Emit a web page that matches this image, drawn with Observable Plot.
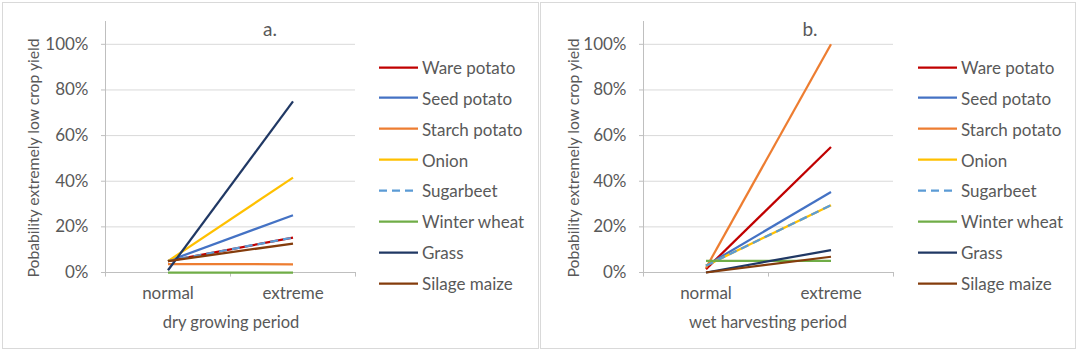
<!DOCTYPE html>
<html>
<head>
<meta charset="utf-8">
<script src="https://cdn.jsdelivr.net/npm/d3@7"></script>
<script src="https://cdn.jsdelivr.net/npm/@observablehq/plot@0.6"></script>
<style>
  html, body { margin: 0; padding: 0; background: #fff; }
  #root { position: relative; width: 1080px; height: 353px; overflow: hidden; font-family: Lato, "Open Sans", sans-serif; color: #595959; }
  .panel { position: absolute; top: 2px; height: 347px; box-sizing: border-box; border: 1px solid #d9d9d9; }
  .abs { position: absolute; white-space: nowrap; }
  .title { font-size: 19px; transform: translate(-50%, -50%); }
  .xlab { font-size: 16.5px; transform: translate(-50%, -50%); }
  .ylab { font-size: 15.7px; transform: translate(-50%, -50%) rotate(-90deg); }
  .legend-row { position: absolute; display: flex; align-items: center; font-size: 17px; transform: translateY(-50%); }
  .legend-row svg { display: block; margin-right: 4px; }
  .plot { position: absolute; top: 0; }
</style>
</head>
<body>
<div id="root"></div>
<script>
// ---- data ----
const categories = ["normal", "extreme"];
const crops = ["Ware potato", "Seed potato", "Starch potato", "Onion", "Sugarbeet", "Winter wheat", "Grass", "Silage maize"];
const cropColors = ["#C00000", "#4472C4", "#ED7D31", "#FFC000", "#5B9BD5", "#70AD47", "#203864", "#843C0C"];
const cropDashed = [false, false, false, false, true, false, false, false];
// panel a: dry growing period
const dryNormal  = [0.050, 0.050, 0.037, 0.050, 0.050, 0.000, 0.010, 0.050];
const dryExtreme = [0.153, 0.251, 0.036, 0.416, 0.153, 0.000, 0.750, 0.127];
// panel b: wet harvesting period
const wetNormal  = [0.015, 0.030, 0.020, 0.030, 0.030, 0.051, 0.000, 0.000];
const wetExtreme = [0.550, 0.353, 1.000, 0.295, 0.295, 0.051, 0.098, 0.069];
const yTicks = [0, 0.2, 0.4, 0.6, 0.8, 1.0];
const yLabel = "Pobability extremely low crop yield";

const root = document.getElementById("root");

function rowsFor(normal, extreme) {
  const rows = [];
  crops.forEach((c, i) => {
    [normal[i], extreme[i]].forEach((v, j) => rows.push({crop: c, idx: i, pos: j + 0.5, value: v}));
  });
  return rows;
}

function makePlot(normal, extreme) {
  const rows = rowsFor(normal, extreme);
  const lineMarks = crops.map((c, i) =>
    Plot.line(rows.filter(r => r.crop === c), {
      x: "pos", y: "value", stroke: "crop",
      strokeWidth: 2.25,
      strokeDasharray: cropDashed[i] ? "8,5" : null,
      strokeLinecap: "butt"
    })
  );
  return Plot.plot({
    width: 370,
    height: 353,
    marginLeft: 105,
    marginRight: 15,
    marginTop: 21,
    marginBottom: 81,
    style: {fontFamily: "Lato, 'Open Sans', sans-serif", fontSize: "17px", color: "#595959", background: "transparent", overflow: "visible"},
    x: {domain: [0, categories.length], ticks: categories.map((c, i) => i + 0.5), tickFormat: v => categories[Math.floor(v)], tickSize: 0, tickPadding: 14, label: null},
    y: {domain: [0, 1.1], ticks: yTicks, tickFormat: d3.format(".0%"), tickSize: 0, tickPadding: 17, label: null},
    color: {domain: crops, range: cropColors},
    marks: [
      Plot.ruleY(yTicks.slice(1), {stroke: "#d9d9d9", strokeWidth: 1}),
      Plot.ruleY(yTicks, {x1: -0.032, x2: 0, stroke: "#bfbfbf"}),
      Plot.ruleY([0], {stroke: "#bfbfbf", strokeWidth: 1}),
      Plot.ruleX(d3.range(categories.length + 1), {y1: -0.02, y2: 0, stroke: "#bfbfbf"}),
      Plot.ruleX([0], {y1: 0, y2: 1.1, stroke: "#bfbfbf"}),
      ...lineMarks
    ]
  });
}

function addPanel(cfg) {
  const panel = document.createElement("div");
  panel.className = "panel";
  panel.style.left = cfg.panelLeft + "px";
  panel.style.width = cfg.panelWidth + "px";
  root.appendChild(panel);

  const plot = makePlot(cfg.normal, cfg.extreme);
  plot.classList.add("plot");
  plot.style.left = cfg.plotLeft + "px";
  root.appendChild(plot);

  const t = document.createElement("div");
  t.className = "abs title"; t.textContent = cfg.title;
  t.style.left = cfg.titleX + "px"; t.style.top = "28px";
  root.appendChild(t);

  const xl = document.createElement("div");
  xl.className = "abs xlab"; xl.textContent = cfg.xLabel;
  xl.style.left = cfg.xLabelX + "px"; xl.style.top = "322px";
  root.appendChild(xl);

  const yl = document.createElement("div");
  yl.className = "abs ylab"; yl.textContent = yLabel;
  yl.style.left = cfg.yLabelX + "px"; yl.style.top = "158px";
  root.appendChild(yl);

  crops.forEach((c, i) => {
    const row = document.createElement("div");
    row.className = "legend-row";
    row.style.left = cfg.legendX + "px";
    row.style.top = (67 + i * 30.87) + "px";
    const ns = "http://www.w3.org/2000/svg";
    const svg = document.createElementNS(ns, "svg");
    svg.setAttribute("width", 39); svg.setAttribute("height", 4);
    const ln = document.createElementNS(ns, "line");
    ln.setAttribute("x1", 0); ln.setAttribute("x2", 39);
    ln.setAttribute("y1", 2); ln.setAttribute("y2", 2);
    ln.setAttribute("stroke", cropColors[i]);
    ln.setAttribute("stroke-width", 2.25);
    if (cropDashed[i]) ln.setAttribute("stroke-dasharray", "8,5");
    svg.appendChild(ln);
    row.appendChild(svg);
    const span = document.createElement("span");
    span.textContent = c;
    row.appendChild(span);
    root.appendChild(row);
  });
}

addPanel({panelLeft: 2, panelWidth: 537, plotLeft: 0, normal: dryNormal, extreme: dryExtreme,
  title: "a.", titleX: 270, xLabel: "dry growing period", xLabelX: 231, yLabelX: 33, legendX: 379});
addPanel({panelLeft: 540, panelWidth: 536, plotLeft: 538, normal: wetNormal, extreme: wetExtreme,
  title: "b.", titleX: 810, xLabel: "wet harvesting period", xLabelX: 768, yLabelX: 573, legendX: 918});
</script>
</body>
</html>
